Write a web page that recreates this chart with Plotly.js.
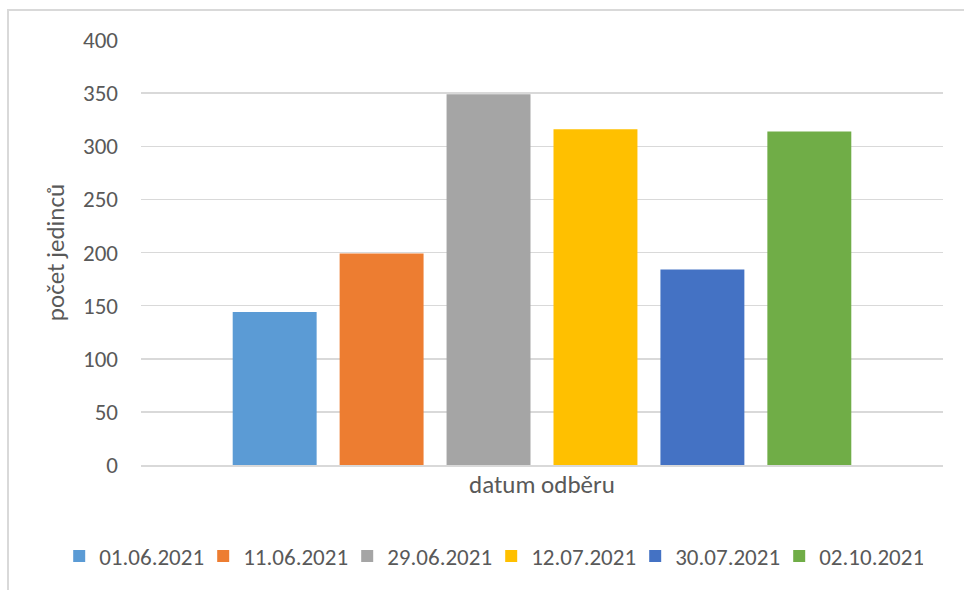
<!DOCTYPE html>
<html>
<head>
<meta charset="utf-8">
<script src="https://cdn.plot.ly/plotly-3.0.1.min.js"></script>
<style>
html,body{margin:0;padding:0;background:#fff;}
#wrap{position:relative;width:964px;height:590px;}
#chart{position:absolute;left:0;top:0;width:964px;height:590px;}
#frame{position:absolute;left:7px;top:9px;width:960px;height:590px;border-top:2px solid #d9d9d9;border-left:2px solid #d9d9d9;pointer-events:none;}
</style>
</head>
<body>
<div id="wrap"><div id="chart"></div><div id="frame"></div></div>
<script>
const category = ["datum odběru"];
const dates = ["01.06.2021","11.06.2021","29.06.2021","12.07.2021","30.07.2021","02.10.2021"];
const counts = [144, 199, 349, 316, 184, 314];
const colors = ["#5b9bd5","#ed7d31","#a5a5a5","#ffc000","#4472c4","#70ad47"];
const yTicks = [0,50,100,150,200,250,300,350,400];

const FONT = "Carlito, Lato, 'Open Sans', sans-serif";
const traces = dates.map((d,i)=>({
  type:'bar', name:d, x:category, y:[counts[i]],
  marker:{color:colors[i]}, hoverinfo:'name+y'
}));

const layout = {
  width:964, height:590,
  margin:{l:141, r:21, t:40, b:125, autoexpand:false},
  paper_bgcolor:'#fff', plot_bgcolor:'#fff',
  font:{family:FONT, color:'#595959', size:23},
  barmode:'group', bargap:0.2, bargroupgap:0.215,
  showlegend:true,
  legend:{orientation:'h', xref:'paper', yref:'paper', x:-0.102, xanchor:'left', y:-0.214, yanchor:'middle',
          font:{size:23, color:'#595959'}, itemwidth:30, traceorder:'normal',
          entrywidth:99, entrywidthmode:'pixels'},
  xaxis:{type:'category', range:[-0.5,0.5], autorange:false, showticklabels:false, ticks:'', showgrid:false, zeroline:false,
         showline:true, linecolor:'#d9d9d9', linewidth:1.5,
         title:{text:'datum odběru', standoff:10, font:{size:25, color:'#595959'}}},
  yaxis:{range:[0,400], tickvals:yTicks, ticktext:yTicks.map(String), showgrid:true,
         gridcolor:'#d9d9d9', gridwidth:1.5, zeroline:false, showline:false, ticks:'',
         ticklabelstandoff:22, tickfont:{size:23},
         title:{text:'počet jedinců', standoff:11, font:{size:25, color:'#595959'}}}
};
Plotly.newPlot('chart', traces, layout, {displayModeBar:false, staticPlot:true});
</script>
</body>
</html>
